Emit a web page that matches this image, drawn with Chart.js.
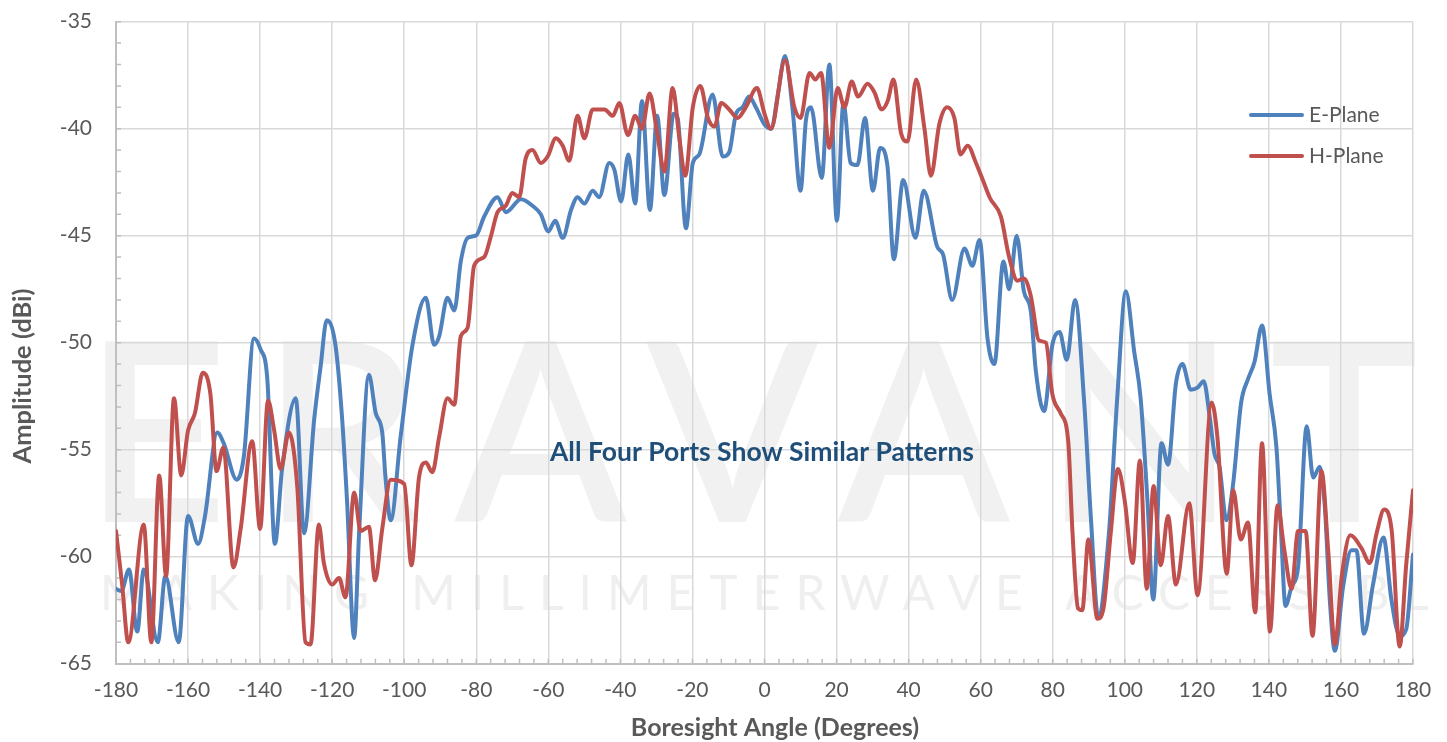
<!DOCTYPE html>
<html lang="en">
<head>
  <meta charset="UTF-8">
  <title>E-Plane / H-Plane pattern</title>
  <script src="https://cdn.jsdelivr.net/npm/chart.js@4.4.1/dist/chart.umd.min.js"></script>
  <style>
    html, body { margin: 0; padding: 0; background: #fff; }
    canvas { display: block; }
  </style>
</head>
<body>
  <canvas id="myChart" width="1447" height="742"></canvas>
  <script>
    // tick values
    const xTicks = [-180, -160, -140, -120, -100, -80, -60, -40, -20, 0, 20, 40, 60, 80, 100, 120, 140, 160, 180];
    const yTicks = [-65, -60, -55, -50, -45, -40, -35];

    // E-Plane
    const eAngle = [-180, -178.5, -176.4, -174.1, -172.3, -168.4, -166.3, -162.6, -160, -157.2, -155.3, -151.9, -150.1,
      -146.5, -144.5, -141.7, -139.9, -138, -135.9, -133.9, -130.1, -127.8, -125, -123.2, -121.5, -119.1, -117.3,
      -115.9, -113.9, -112.5, -109.8, -107.9, -106.1, -105.2, -103.75, -101, -97.7, -94, -91.7, -90.3, -88, -86.1,
      -84.3, -82.4, -80.1, -77.8, -74.1, -71.8, -67.6, -64.4, -62.1, -60, -58.1, -56, -53.7, -51.9, -50, -47.7,
      -45.9, -43.1, -41.7, -39.8, -37.8, -35.9, -34, -31.8, -29.8, -27.8, -25.2, -24.1, -21.8, -19.9, -18.1, -14.4,
      -11.6, -9.8, -7.9, -6.1, -4.3, -2.4, 0, 1.9, 3.7, 5.7, 7.8, 10, 11.5, 12.9, 15.9, 18, 20.1, 21.9, 23.9, 25.8,
      27.9, 30.1, 32.1, 34.1, 35.9, 38.5, 41.9, 44.2, 47.9, 49.6, 52.1, 55.5, 57.7, 59.7, 61.9, 63.8, 66.3, 67.9, 70,
      72, 73.9, 75.3, 77.6, 79.9, 81.9, 83.9, 86.2, 88.7, 90.6, 92.6, 95.6, 97.9, 100.3, 102.6, 104.4, 106.3, 107.9,
      110.2, 112, 114.2, 116, 118.3, 120.2, 121.9, 123.6, 124.9, 126.3, 128.2, 130, 132.3, 134.2, 136, 138.1, 140.2,
      142.1, 143.4, 144.6, 146.3, 148.1, 150.5, 152.3, 154.1, 155.5, 156.9, 158.3, 160.6, 162.9, 164.3, 166.4, 168.9,
      171.8, 174, 176.3, 178.1, 180];
    const eAmp = [-61.5, -61.6, -60.6, -63.5, -60.6, -64.0, -60.9, -64.0, -58.1, -59.4, -58.1, -54.2, -54.7,
      -56.4, -55.3, -49.8, -50.3, -51.7, -59.4, -55.9, -52.6, -58.9, -53.6, -51.1, -48.95, -50.1, -53.4,
      -57.3, -63.8, -58.8, -51.5, -53.3, -54.2, -56.3, -58.3, -54.4, -50.1, -47.9, -50.1, -49.7, -47.9, -48.5,
      -46.2, -45.1, -45.0, -44.1, -43.2, -43.9, -43.3, -43.6, -44.0, -44.8, -44.3, -45.1, -43.8, -43.2, -43.5, -42.9,
      -43.2, -41.6, -41.9, -43.4, -41.2, -43.5, -38.7, -43.8, -39.4, -43.1, -39.3, -39.5, -44.65, -41.6, -41.2, -38.4,
      -41.3, -41.1, -39.3, -39.0, -38.5, -39.0, -39.8, -40.0, -38.4, -36.6, -39.1, -42.9, -39.6, -39.0, -42.3, -37.0, -44.3, -38.8, -41.6, -41.7,
      -39.5, -42.9, -40.9, -41.7, -46.1, -42.4, -45.1, -42.9, -45.5, -45.9, -48.0, -45.6, -46.4, -45.2, -49.8, -51.0, -46.2, -47.5, -45.0,
      -47.6, -48.5, -51.3, -53.2, -50.1, -49.5, -50.8, -48.0, -52.7, -58.2, -62.8, -58.9, -52.6, -47.6, -50.4, -52.6, -57.4, -62.0,
      -54.7, -55.7, -51.9, -51.0, -52.2, -52.1, -51.8, -53.5, -55.2, -55.8, -58.3, -56.7, -52.8, -51.7, -50.9, -49.2, -52.4,
      -54.9, -58.9, -62.3, -61.4, -60.5, -53.9, -56.3, -55.8, -57.6, -62.0, -64.4, -61.4, -59.7, -59.7, -63.6, -61.3,
      -59.1, -62.0, -63.7, -63.4, -59.9];

    // H-Plane
    const hAngle = [-180, -178.3, -176.6, -172.3, -170.2, -168, -166.1, -163.9, -161.9, -160, -158.1, -155.9, -153.8,
      -152.1, -150.2, -147.4, -145.4, -142.2, -140, -137.8, -136.1, -134.3, -132, -129.7, -127.4, -126, -123.7, -122.3,
      -120, -118.1, -116.3, -113.9, -112.1, -109.8, -108.1, -106.1, -103.75, -100, -98, -95.9, -94, -92.2, -90.3, -88,
      -86.1, -84.3, -82.4, -80.6, -77.8, -75.9, -74.1, -71.8, -70, -68.1, -66.3, -64.4, -62.1, -60.2, -57.9, -56,
      -54.2, -51.9, -50, -47.7, -44.4, -42.1, -40.3, -37.9, -35.9, -34, -31.9, -29.8, -27.8, -25.5, -23.6, -22,
      -19.9, -17.8, -15.7, -13.9, -12, -9.8, -7.5, -5.2, -2.1, 0, 1.8, 5.7, 8.3, 10, 12.5, 14.1, 15.7, 18, 20.3, 22.2,
      24.2, 26, 28.6, 30.5, 32.5, 34.2, 35.8, 37.9, 39.7, 42.1, 44.4, 46.2, 48.5, 50.7, 52.7, 54.4, 56.4, 58.7, 60.6,
      62.6, 65.6, 67.9, 70.2, 72, 73.9, 76.2, 78.1, 79.9, 82.2, 84.3, 85.5, 87, 88.2, 89.9, 92.4, 94.1, 96.1, 98.1,
      100, 102.2, 104.2, 106.1, 108, 110, 112, 114.2, 117.9, 120.2, 124.1, 125.7, 128.3, 130.1, 132.2, 134.2, 136.2,
      138.1, 140.3, 142.4, 144.3, 146.3, 148.1, 150.2, 152.1, 154.6, 156.5, 158.3, 160.3, 162.6, 165.7, 168, 169.9,
      172, 174.1, 176.3, 178.1, 180];
    const hAmp = [-58.8, -61.3, -64.0, -58.5, -64.0, -56.2, -60.9, -52.6, -56.2, -54.1, -53.3, -51.4, -52.4,
      -56.0, -54.9, -60.5, -58.7, -54.6, -58.7, -52.7, -54.1, -55.9, -54.2, -56.7, -64.0, -64.1, -58.5, -60.3,
      -61.3, -61.0, -61.9, -57.0, -58.8, -58.6, -61.1, -58.7, -56.4, -56.6, -60.4, -56.3, -55.6, -56.05, -54.4, -52.6,
      -52.9, -49.7, -49.3, -46.4, -46.0, -45.0, -43.9, -43.6, -43.0, -43.2, -41.4, -41.0, -41.6, -41.3, -40.45, -40.8,
      -41.5, -39.4, -40.45, -39.1, -39.1, -39.4, -38.8, -40.3, -39.4, -40.0, -38.35, -40.2, -42.0, -38.1, -40.5, -42.2,
      -39.0, -38.0, -39.5, -39.9, -38.8, -39.1, -39.5, -39.0, -38.1, -39.3, -40.0, -36.8, -39.0, -39.5, -37.4, -37.7, -37.4, -40.9, -38.1, -39.0,
      -37.8, -38.5, -37.9, -38.3, -39.1, -38.7, -37.7, -40.2, -40.6, -37.7, -40.0, -42.2, -39.8, -39.0, -39.5, -41.2, -40.8, -41.6, -42.4,
      -43.25, -44.1, -46.0, -47.1, -47.0, -47.8, -49.9, -50.0, -52.4, -53.3, -54.6, -58.9, -62.4, -62.5, -59.2, -62.9, -62.4, -58.9, -55.9,
      -57.4, -60.3, -55.5, -61.5, -56.7, -60.4, -58.1, -61.3, -57.5, -61.8, -52.8, -54.4, -60.8, -56.9, -59.2, -58.4, -62.6,
      -54.7, -63.5, -57.6, -59.7, -61.5, -58.8, -58.8, -63.7, -56.0, -59.8, -64.1, -60.8, -59.0, -59.6, -60.3, -58.9,
      -57.8, -58.8, -64.2, -60.4, -56.9];

    const blue = '#4f81bd';
    const red = '#c0504d';
    const grey = '#595959';

    // watermark behind the grid
    const watermark = {
      id: 'watermark',
      beforeDraw(chart) {
        const ctx = chart.ctx;
        ctx.save();
        ctx.fillStyle = '#f1f1f1';
        ctx.textBaseline = 'alphabetic';
        ctx.font = '600 250px Lato';
        ctx.letterSpacing = '34px';
        ctx.fillText('ERAVANT', 84, 522);
        ctx.fillStyle = '#efefef';
        ctx.font = '48px Lato';
        ctx.letterSpacing = '15px';
        ctx.fillText('MAKING MILLIMETERWAVE ACCESSIBLE', 100, 610);
        ctx.restore();
      }
    };

    // minor ticks, axis titles, legend and the note
    const extras = {
      id: 'extras',
      beforeDatasetsDraw(chart) {
        const { ctx, chartArea, scales: { x, y } } = chart;
        ctx.save();
        ctx.strokeStyle = '#bfbfbf';
        ctx.lineWidth = 1.5;
        ctx.beginPath();
        for (let v = -180; v <= 180; v += 4) {
          const px = x.getPixelForValue(v);
          ctx.moveTo(px, chartArea.bottom);
          ctx.lineTo(px, chartArea.bottom - 5);
        }
        for (let v = -65; v <= -35; v += 1) {
          const py = y.getPixelForValue(v);
          ctx.moveTo(chartArea.left, py);
          ctx.lineTo(chartArea.left + 5, py);
        }
        ctx.stroke();
        ctx.restore();
      },
      afterDraw(chart) {
        const { ctx, scales: { x, y } } = chart;
        ctx.save();
        ctx.fillStyle = grey;
        ctx.textAlign = 'center';
        ctx.textBaseline = 'middle';
        ctx.font = 'bold 25px Lato';
        ctx.fillText('Boresight Angle (Degrees)', 775, 728);
        ctx.save();
        ctx.translate(23, 376);
        ctx.rotate(-Math.PI / 2);
        ctx.font = 'bold 25.5px Lato';
        ctx.fillText('Amplitude (dBi)', 0, 0);
        ctx.restore();

        const items = [['E-Plane', blue, 115], ['H-Plane', red, 156]];
        ctx.textAlign = 'left';
        ctx.lineCap = 'round';
        ctx.lineWidth = 4;
        ctx.font = '21px Lato';
        items.forEach(([label, color, ly]) => {
          ctx.strokeStyle = color;
          ctx.beginPath();
          ctx.moveTo(1251, ly);
          ctx.lineTo(1302, ly);
          ctx.stroke();
          ctx.fillText(label, 1309, ly);
        });

        ctx.font = 'bold 26.5px Lato';
        ctx.fillStyle = '#1f4e79';
        ctx.textAlign = 'center';
        ctx.fillText('All Four Ports Show Similar Patterns', x.getPixelForValue(-0.7), y.getPixelForValue(-55.13));
        ctx.restore();
      }
    };

    const ctx1 = document.getElementById('myChart');

    new Chart(ctx1, {
      type: 'line',
      data: {
        datasets: [{
          label: 'E-Plane',
          data: eAngle.map((a, i) => ({ x: a, y: eAmp[i] })),
          borderColor: blue,
          borderWidth: 4,
          pointRadius: 0,
          cubicInterpolationMode: 'monotone',
          borderJoinStyle: 'round',
          borderCapStyle: 'round',
          order: 2
        }, {
          label: 'H-Plane',
          data: hAngle.map((a, i) => ({ x: a, y: hAmp[i] })),
          borderColor: red,
          borderWidth: 4,
          pointRadius: 0,
          cubicInterpolationMode: 'monotone',
          borderJoinStyle: 'round',
          borderCapStyle: 'round',
          order: 1
        }]
      },
      options: {
        responsive: false,
        animation: false,
        devicePixelRatio: 1,
        layout: { padding: { left: 0, right: 34, top: 21.7, bottom: 0 } },
        plugins: {
          legend: { display: false },
          tooltip: { enabled: false }
        },
        scales: {
          x: {
            type: 'linear',
            min: -180,
            max: 180,
            afterBuildTicks: (scale) => { scale.ticks = xTicks.map(v => ({ value: v })); },
            afterFit: (scale) => { scale.height = 78.3; },
            grid: { color: '#d9d9d9', lineWidth: 1.5, drawTicks: false },
            border: { color: '#bfbfbf', width: 2 },
            ticks: { color: grey, font: { family: 'Lato', size: 21 }, padding: 14, maxRotation: 0 }
          },
          y: {
            min: -65,
            max: -35,
            afterBuildTicks: (scale) => { scale.ticks = yTicks.map(v => ({ value: v })); },
            afterFit: (scale) => {
              scale.width = 116;
              scale.paddingTop = 0;
              scale.paddingBottom = 0;
            },
            grid: { color: '#d9d9d9', lineWidth: 1.5, drawTicks: false },
            border: { color: '#bfbfbf', width: 2 },
            ticks: { color: grey, font: { family: 'Lato', size: 21 }, padding: 24 }
          }
        }
      },
      plugins: [watermark, extras]
    });
  </script>
</body>
</html>
